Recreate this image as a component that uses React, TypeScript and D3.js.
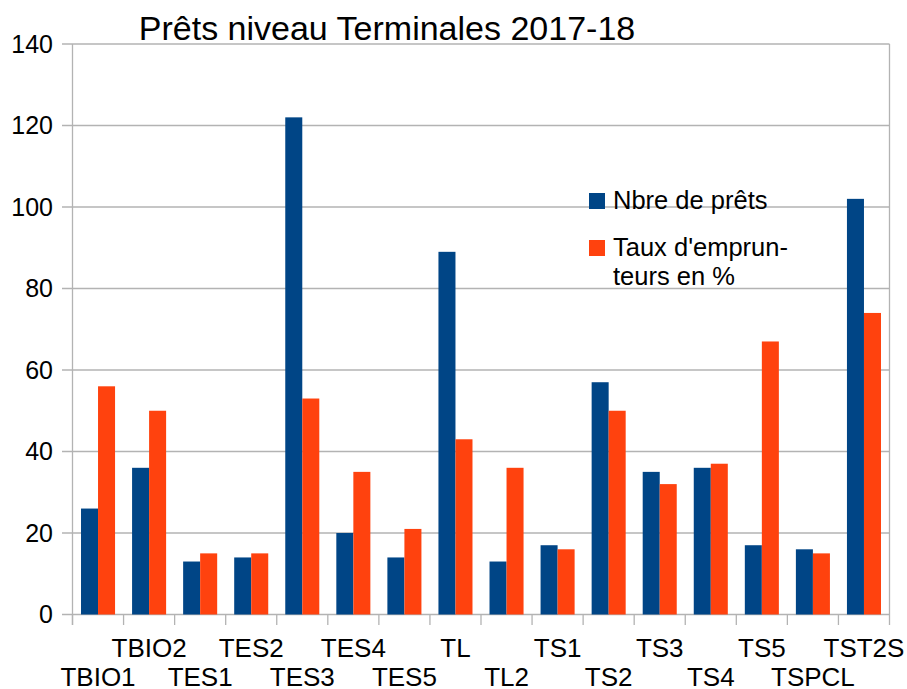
import React from 'react';
import * as d3 from 'd3';

const classes = ['TBIO1', 'TBIO2', 'TES1', 'TES2', 'TES3', 'TES4', 'TES5', 'TL', 'TL2', 'TS1', 'TS2', 'TS3', 'TS4', 'TS5', 'TSPCL', 'TST2S'];
const nbPrets = [26, 36, 13, 14, 122, 20, 14, 89, 13, 17, 57, 35, 36, 17, 16, 102];
const tauxEmprunteurs = [56, 50, 15, 15, 53, 35, 21, 43, 36, 16, 50, 32, 37, 67, 15, 74];
const seriesNames = ['Nbre de prêts', "Taux d'emprun-teurs en %"];
const seriesColors = ['#004586', '#ff420e'];
const yTicks = [0, 20, 40, 60, 80, 100, 120, 140];

const W = 907;
const H = 689;
const left = 72.5;
const right = 889.5;
const top = 44;
const bottom = 614.5;
const font = '"Liberation Sans", Arial, sans-serif';

const App = () => {
  const x = d3.scaleBand<string>().domain(classes).range([left, right]).padding(0);
  const x1 = d3.scaleBand<number>().domain([0, 1]).range([0, x.bandwidth()]).paddingInner(0).paddingOuter(0.5);
  const y = d3.scaleLinear().domain([0, 140]).range([bottom, top]);
  const data = [nbPrets, tauxEmprunteurs];
  const grid = '#b3b3b3';

  return (
    <svg width={W} height={H} style={{ position: 'absolute', left: 0, top: 0 }} fontFamily={font}>
      <rect width={W} height={H} fill="#fff" />
      <text x={387} y={40} fontSize={34} textAnchor="middle" fill="#000">
        Prêts niveau Terminales 2017-18
      </text>

      {yTicks.map((t) => (
        <g key={t}>
          <line x1={62} x2={right} y1={y(t)} y2={y(t)} stroke={grid} strokeWidth={1.3} />
          <text x={53} y={y(t)} dy="0.35em" fontSize={25} textAnchor="end" fill="#000">
            {t}
          </text>
        </g>
      ))}
      <line x1={left} x2={left} y1={top} y2={625} stroke={grid} strokeWidth={1.3} />
      <line x1={right} x2={right} y1={top} y2={625} stroke={grid} strokeWidth={1.3} />
      {classes.map((c) => (
        <line key={c} x1={x(c)!} x2={x(c)!} y1={bottom} y2={625} stroke={grid} strokeWidth={1.3} />
      ))}

      {classes.map((c, i) => (
        <g key={c}>
          {data.map((s, k) => (
            <rect
              key={k}
              x={x(c)! + x1(k)!}
              y={y(s[i])}
              width={x1.bandwidth()}
              height={bottom - y(s[i])}
              fill={seriesColors[k]}
            />
          ))}
          <text
            x={x(c)! + x.bandwidth() / 2}
            y={i % 2 === 0 ? 685.5 : 656.5}
            fontSize={26}
            textAnchor="middle"
            fill="#000"
          >
            {c}
          </text>
        </g>
      ))}

      <rect x={589} y={193} width={16} height={16} fill={seriesColors[0]} />
      <text x={613} y={209} fontSize={25.5} fill="#000">
        {seriesNames[0]}
      </text>
      <rect x={589} y={240} width={16} height={16} fill={seriesColors[1]} />
      <text x={613} y={256} fontSize={25.5} fill="#000">
        <tspan x={613}>{seriesNames[1].split('-')[0] + '-'}</tspan>
        <tspan x={613} dy={29}>{seriesNames[1].split('-')[1]}</tspan>
      </text>
    </svg>
  );
};

export default App;
